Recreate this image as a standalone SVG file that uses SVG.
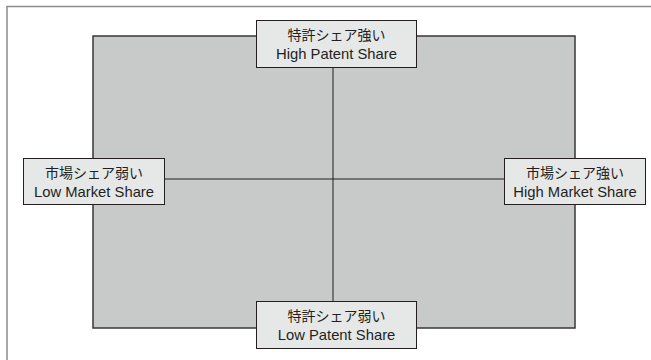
<svg xmlns="http://www.w3.org/2000/svg" width="651" height="360" viewBox="0 0 651 360">
<style>
.frame{fill:#fff;stroke:#8c8c8c;stroke-width:1.5}
.field{fill:#c8c9c9;stroke:#3a3637;stroke-width:1.5}
.axis{stroke:#231f20;stroke-width:1;fill:none}
.box{fill:#e6e8e8;stroke:#231f20;stroke-width:1}
.jp{font-family:"Noto Sans CJK JP","Noto Sans",sans-serif;font-size:14px;fill:#231f20;text-anchor:middle}
.en{font-family:"Liberation Sans",Arial,sans-serif;font-size:14.8px;fill:#231f20;text-anchor:middle}
</style>
<rect width="651" height="360" fill="#fff"/>
<rect class="frame" x="7" y="6.5" width="700" height="400"/>
<rect class="field" x="93" y="36" width="482" height="292"/>
<g id="connectors">
<line class="axis" x1="333" y1="36" x2="333" y2="328"/>
<line class="axis" x1="93" y1="179" x2="575" y2="179"/>
</g>
<g id="high-patent">
<rect class="box" x="256.5" y="20.5" width="160" height="47"/>
<text class="jp" x="336.5" y="39.5">特許シェア強い</text>
<text class="en" x="336.5" y="58.5">High Patent Share</text>
</g>
<g id="low-market">
<rect class="box" x="23.5" y="158.5" width="141" height="46"/>
<text class="jp" x="94" y="177.5">市場シェア弱い</text>
<text class="en" x="94" y="196.5">Low Market Share</text>
</g>
<g id="high-market">
<rect class="box" x="504.5" y="158.5" width="141" height="46"/>
<text class="jp" x="575" y="177.5">市場シェア強い</text>
<text class="en" x="575" y="196.5">High Market Share</text>
</g>
<g id="low-patent">
<rect class="box" x="256.5" y="301.5" width="160" height="47"/>
<text class="jp" x="336.5" y="320.5">特許シェア弱い</text>
<text class="en" x="336.5" y="339.5">Low Patent Share</text>
</g>
</svg>
